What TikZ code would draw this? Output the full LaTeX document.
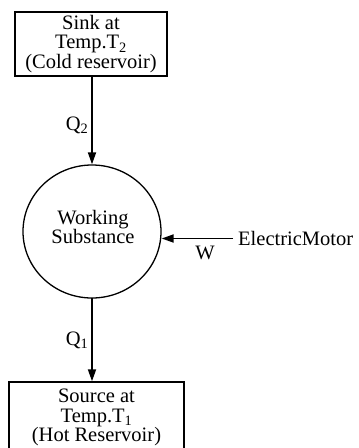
\documentclass[tikz,border=0pt]{standalone}
\usepackage{fontspec}
\setmainfont{Liberation Serif}
\usetikzlibrary{shapes.geometric,arrows.meta}
\begin{document}
\begin{tikzpicture}[x=1pt,y=-1pt,
  txt/.style={font=\fontsize{20.5}{19.5}\selectfont, align=center, inner sep=0pt},
  resbox/.style={txt, draw, line width=1.4pt},
  flow/.style={line width=1.8pt, -{Triangle[length=12pt,width=8pt]}},
  lbl/.style={font=\fontsize{20.5}{19.5}\selectfont, inner sep=0pt}]
\useasboundingbox (0,0) rectangle (359,448);
\node[resbox, minimum width=152pt, minimum height=64pt] (sink) at (91,44)
  {Sink at\\Temp.T\textsubscript{2}\\(Cold reservoir)};
\node[draw, line width=1.3pt, ellipse, minimum width=138pt, minimum height=133pt] (ws) at (92,231.5) {};
\node[txt] (wstxt) at (93,227) {Working\\Substance};
\node[resbox, minimum width=175pt, minimum height=71pt] (src) at (96.5,417.5)
  {Source at\\Temp.T\textsubscript{1}\\(Hot Reservoir)};
\node[lbl, anchor=west, inner xsep=5pt] (em) at (233,238.5) {ElectricMotor};
\coordinate (s1) at (92,76);
\coordinate (s2) at (92,298);
\draw[flow] (s1) -- (ws.north -| s1);
\draw[flow] (s2) -- (src.north -| s2);
\draw[flow] (em.west) -- (em.west -| ws.east);
\node[lbl] (q2) at (77,125) {Q\textsubscript{2}};
\node[lbl] (q1) at (77,340) {Q\textsubscript{1}};
\node[lbl] (w) at (205,253) {W};
\end{tikzpicture}
\end{document}
